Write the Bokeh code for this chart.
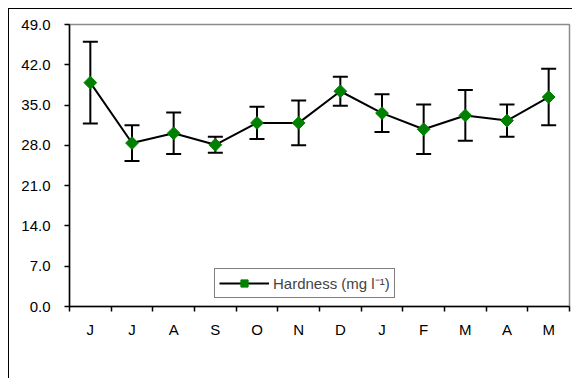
import numpy as np
from bokeh.plotting import figure
from bokeh.models import (ColumnDataSource, FixedTicker, Whisker, TeeHead,
                          Legend, LegendItem)
from bokeh.embed import file_html
from bokeh.resources import INLINE

# Monthly water hardness, mean and standard deviation
months = ["J", "J", "A", "S", "O", "N", "D", "J", "F", "M", "A", "M"]
hardness = [38.9, 28.4, 30.1, 28.1, 31.9, 31.9, 37.4, 33.6, 30.8, 33.2, 32.3, 36.4]
sd = [7.1, 3.1, 3.6, 1.4, 2.8, 3.9, 2.5, 3.3, 4.3, 4.4, 2.8, 4.9]
y_ticks = [0, 7, 14, 21, 28, 35, 42, 49]

x = list(range(1, len(months) + 1))
src = ColumnDataSource(dict(
    x=x, y=hardness,
    upper=[m + s for m, s in zip(hardness, sd)],
    lower=[m - s for m, s in zip(hardness, sd)],
))

FONT = "Liberation Sans"

p = figure(width=564, height=370, output_backend="svg", toolbar_location=None,
           x_range=(0.5, len(months) + 0.5), y_range=(0, 49),
           min_border_left=60, min_border_right=4, min_border_top=15,
           min_border_bottom=73)
# chart area border (left and top edges visible inside the window)
p.margin = (8, 0, 0, 8)
p.styles = {"border-left": "1.5px solid black", "border-top": "1.5px solid black"}

p.xgrid.visible = False
p.ygrid.visible = False
p.outline_line_color = "#8c8c8c"
p.outline_line_width = 1.5
p.background_fill_color = "white"
p.border_fill_color = "white"

# y axis
p.yaxis.ticker = FixedTicker(ticks=y_ticks, minor_ticks=[])
p.yaxis.major_label_overrides = {t: f"{t:.1f}" for t in y_ticks}
p.yaxis.major_tick_in = 0
p.yaxis.major_tick_out = 5
p.yaxis.major_label_standoff = 14
p.yaxis.axis_line_color = "black"
p.yaxis.axis_line_width = 1.5
p.yaxis.major_tick_line_width = 1.5

# x axis: labels on categories, tick marks between them
p.xaxis.ticker = FixedTicker(ticks=x, minor_ticks=[i + 0.5 for i in range(len(months) + 1)])
p.xaxis.major_label_overrides = {i: m for i, m in zip(x, months)}
p.xaxis.major_tick_line_color = None
p.xaxis.major_tick_in = 0
p.xaxis.major_tick_out = 5
p.xaxis.minor_tick_in = 0
p.xaxis.minor_tick_out = 5
p.xaxis.minor_tick_line_color = "black"
p.xaxis.minor_tick_line_width = 1.5
p.xaxis.major_label_standoff = 9
p.xaxis.axis_line_color = "black"
p.xaxis.axis_line_width = 1.5

for ax in (p.xaxis, p.yaxis):
    ax.major_label_text_font = FONT
    ax.major_label_text_font_size = "15px"
    ax.major_label_text_color = "black"

# error bars
whisk = Whisker(base="x", upper="upper", lower="lower", source=src,
                dimension="height", line_color="black", line_width=2,
                upper_head=TeeHead(size=15, line_color="black", line_width=2),
                lower_head=TeeHead(size=15, line_color="black", line_width=2))
p.add_layout(whisk)

line_r = p.line("x", "y", source=src, line_color="black", line_width=2)
mark_r = p.scatter("x", "y", source=src, marker="square", size=9, angle=np.pi / 4,
                   fill_color="#008000", line_color="#008000")

legend = Legend(items=[LegendItem(label="Hardness (mg l⁻¹)", renderers=[line_r, mark_r])],
                location=(145, 8), orientation="horizontal",
                label_text_font=FONT, label_text_font_size="15px",
                glyph_width=50, glyph_height=18, label_height=18, label_standoff=4,
                padding=4, margin=0, spacing=0,
                border_line_color="black", border_line_width=1.5,
                background_fill_color="white", background_fill_alpha=1)
p.add_layout(legend, "center")

open("out.html", "w").write(file_html(p, INLINE))
